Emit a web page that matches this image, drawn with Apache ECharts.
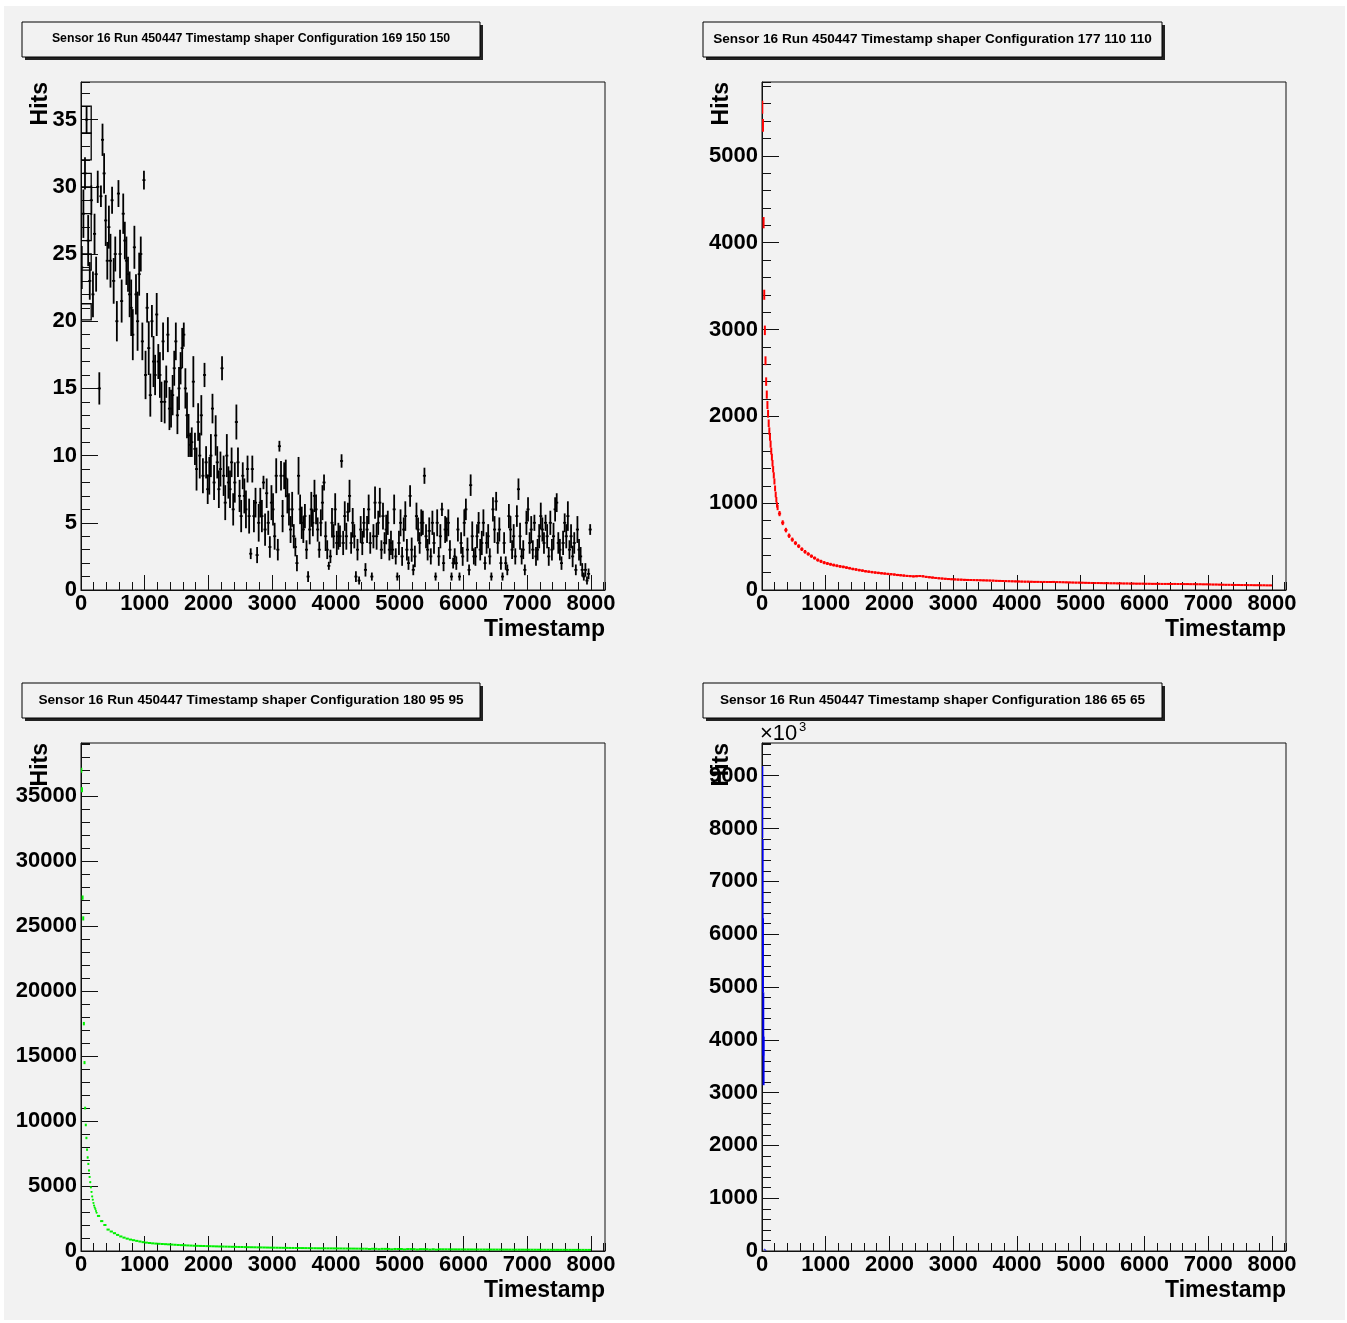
<!DOCTYPE html>
<html>

<head>
  <meta charset="utf-8" />
  <title>Sensor 16 Run 450447 Timestamp</title>
  <script src="https://cdn.jsdelivr.net/npm/echarts@6/dist/echarts.min.js"></script>
  <style>
    html, body { margin: 0; padding: 0; background: #fff; }
    #pad { position: absolute; left: 4px; top: 6px; width: 1341px; height: 1314px; background: #f2f2f2; }
    #timestamps { position: absolute; left: 0; top: 0; width: 1347px; height: 1323px; }
  </style>
</head>

<body>
  <div id="pad"></div>
  <div id="timestamps"></div>
  <script type="text/javascript">

    // Panel 1: config 169 150 150, bins of 25 starting at 0
    let p1BinWidth = 25;
    let p1Hits = [
      24, 28, 31, 35, 26, 23, 29, 22, 26.5, 23.5, 30, 15, 29.3, 33.5, 31, 27.5, 24.5, 27, 24.5, 29,
      23, 25, 20, 29.5, 25, 21.5, 28, 26, 24.5, 23.5, 22, 21, 19, 25.5, 22, 20, 23.5, 25, 18.5, 30.5,
      16, 21, 18, 14.5, 20, 17, 16, 20.5, 17, 16, 14, 18.5, 14, 15.5, 19, 13.5, 13.5, 14.5, 16.5, 18.5,
      13, 15, 16.5, 18, 19, 15, 13, 11.5, 10.8, 11, 15.5, 10.5, 9, 12.5, 10, 13, 8.5, 16, 9.5, 7.5,
      8.5, 10, 13.5, 8, 11.5, 9.5, 7.5, 9, 16.5, 8.5, 6.5, 10, 8, 7.5, 9.5, 6, 8, 12.5, 9.5, 7,
      5.5, 8.5, 7, 6, 9, 5.5, 2.7, 9, 5.5, 6.5, 2.6, 5, 6.5, 5.5, 8, 4.5, 7.2, 5, 3.2, 6.5,
      6, 4, 8.5, 3, 10.7, 8.5, 5.5, 8.5, 8.3, 7, 6, 4.5, 6, 4, 3.2, 2, 8.5, 6, 5, 4.5,
      5.5, 3, 1, 4.5, 6, 5, 7, 6, 4.5, 3, 5, 6.5, 8, 4, 3, 1.8, 2.5, 5, 4, 6,
      3.5, 4, 4, 9.6, 3.5, 5.5, 4, 5.8, 7, 3.5, 5, 4, 1, 3, 0.7, 4.5, 3.5, 5, 1.5, 4.5,
      6, 3.5, 1, 4, 6.5, 4, 5, 6.5, 3, 5.5, 3.5, 4.5, 5, 3, 3.5, 3, 6, 2.5, 1, 3.5,
      5, 2.5, 4.5, 5.5, 3, 2, 7, 3, 1.5, 2.5, 5.5, 4.5, 3.5, 5, 5, 8.5, 4, 3, 4.4, 2.5,
      5, 3.5, 1, 5, 2.5, 4, 6, 2, 4.5, 4.5, 5, 3, 1, 2, 2.5, 2, 4.5, 1, 3.5, 2.5,
      5, 6, 3, 1.5, 7.8, 4, 2.5, 2.5, 4, 5, 3, 3.5, 5, 2, 3.5, 4, 2.5, 1, 6, 4.5,
      6.6, 3.5, 4.5, 2, 1, 3.5, 2, 1.5, 5.5, 4.5, 3, 4, 2.5, 5.5, 7.5, 4, 2.5, 3, 1.5, 5,
      6, 3.5, 4.5, 3, 5, 2.5, 3, 4, 5.5, 4.5, 3.5, 5, 4, 2.5, 5, 3, 4, 6, 6.5, 3.5,
      3, 2, 3.5, 5, 4, 5.5, 3, 4, 2.5, 3.5, 1.5, 4.5, 3, 2.5, 1.5, 1, 1.5, 0.7, 1.2, 4.5];
    let p1Err = [
      1.6, 1.8, 1.2, 1.0, 1.9, 1.4, 1.1, 1.7, 1.5, 1.3, 1.2, 1.2, 0.8, 1.2, 1.5, 1.9, 1.4, 1.6, 2.0, 1.0,
      1.7, 1.3, 1.5, 1.0, 1.8, 1.6, 1.5, 1.4, 1.8, 1.3, 1.7, 2.1, 1.9, 1.6, 1.5, 2.2, 1.6, 1.3, 1.4, 0.7,
      1.8, 1.1, 2.0, 1.6, 1.2, 1.9, 1.5, 1.6, 1.3, 1.7, 1.5, 1.4, 1.6, 1.2, 1.3, 1.6, 1.4, 1.5, 1.3, 1.4,
      1.4, 1.6, 1.2, 1.5, 0.9, 1.5, 1.7, 1.6, 0.9, 1.1, 1.9, 1.2, 1.6, 1.4, 1.7, 1.5, 1.3, 0.9, 1.2, 1.1,
      1.4, 1.6, 1.1, 1.3, 1.5, 1.2, 1.4, 1.3, 0.9, 1.5, 1.3, 1.6, 1.2, 1.4, 1.1, 1.2, 1.5, 1.3, 1.1, 1.2,
      1.2, 1.0, 1.3, 1.4, 1.0, 1.3, 0.4, 1.0, 1.2, 1.1, 0.6, 1.4, 1.1, 1.2, 0.5, 1.2, 1.1, 0.9, 0.8, 1.3,
      1.2, 1.0, 1.3, 0.8, 0.4, 1.1, 1.2, 1.0, 1.4, 1.3, 1.2, 1.0, 1.3, 0.9, 0.7, 0.6, 1.4, 1.1, 1.2, 1.0,
      0.9, 0.7, 0.4, 1.1, 1.3, 1.0, 1.2, 1.1, 0.9, 0.6, 1.0, 1.3, 0.6, 1.1, 0.7, 0.3, 0.5, 1.1, 0.9, 1.2,
      0.9, 1.0, 0.8, 0.5, 0.9, 1.1, 1.0, 0.7, 1.2, 0.8, 1.1, 0.9, 0.4, 0.8, 0.3, 1.0, 0.9, 1.1, 0.5, 1.0,
      1.1, 0.8, 0.3, 0.9, 1.2, 1.0, 0.9, 1.1, 0.7, 1.0, 0.8, 1.1, 0.9, 0.8, 0.9, 0.7, 1.1, 0.6, 0.3, 0.9,
      1.0, 0.7, 0.9, 1.1, 0.8, 0.5, 0.8, 0.9, 0.4, 0.8, 1.0, 0.9, 0.8, 1.0, 0.9, 0.6, 0.9, 0.8, 1.0, 0.6,
      0.9, 0.8, 0.3, 1.0, 0.7, 0.9, 0.5, 0.6, 1.0, 0.9, 1.0, 0.7, 0.3, 0.4, 0.6, 0.5, 0.9, 0.3, 0.8, 0.7,
      1.0, 0.8, 0.9, 0.4, 0.8, 1.1, 0.6, 0.7, 0.9, 0.8, 0.8, 0.9, 1.0, 0.5, 0.8, 0.9, 0.6, 0.3, 0.9, 1.0,
      0.7, 0.8, 0.9, 0.5, 0.3, 0.8, 0.5, 0.4, 0.9, 1.0, 0.7, 0.9, 0.6, 0.8, 0.8, 1.0, 0.6, 0.7, 0.4, 0.9,
      0.9, 0.8, 1.0, 0.7, 0.6, 0.7, 0.8, 0.9, 1.0, 0.9, 0.8, 0.6, 0.9, 0.7, 0.9, 0.8, 1.0, 0.9, 0.7, 0.8,
      0.8, 0.5, 0.9, 0.7, 0.9, 1.1, 0.7, 0.9, 0.8, 0.8, 0.4, 1.0, 0.8, 0.7, 0.5, 0.3, 0.5, 0.3, 0.4, 0.4];
    // error boxes drawn over the first bins: [from, to, low, high]
    let p1Boxes = [[0, 160, 34.0, 36.0], [0, 160, 32.0, 34.0], [0, 160, 30.0, 31.0],
      [0, 160, 26.0, 28.0], [0, 160, 23.8, 25.0], [0, 160, 20.1, 21.3]];

    // Panels 2 and 3 share the binning: 10 wide up to 250, then 50 wide
    let fineTime = [5, 15, 25, 35, 45, 55, 65, 75, 85, 95, 105, 115, 125, 135, 145,
      155, 165, 175, 185, 195, 205, 215, 225, 235, 245];
    let coarseStart = 275, coarseWidth = 50;

    // Panel 2: config 177 110 110
    let p2Hits = [
      5560, 5350, 4230, 3400, 2990, 2640, 2400, 2250, 2130, 2030, 1920, 1830, 1760, 1680, 1600,
      1530, 1460, 1390, 1320, 1250, 1170, 1100, 1040, 980, 950,
      880, 775, 690, 625, 580, 540, 505, 470, 440, 415, 390, 368, 345, 330, 315,
      305, 296, 287, 279, 272, 266, 258, 251, 242, 236, 229, 223, 216, 211, 206, 201, 197, 193, 189, 185,
      182, 178, 173, 170, 166, 162, 160, 157, 159, 161, 158, 151, 147, 143, 139, 135, 132, 129, 126, 124,
      122, 120, 119, 117, 116, 115, 114, 113, 112, 111, 110, 109, 108, 106, 105, 104, 102, 101, 100, 99,
      98, 97, 96, 96, 95, 94, 94, 93, 93, 92, 92, 93, 91, 90, 89, 88, 87, 86, 85, 85,
      84, 83, 82, 81, 80, 80, 79, 78, 78, 77, 77, 76, 76, 75, 75, 74, 74, 73, 73, 73,
      72, 72, 71, 71, 71, 70, 70, 70, 69, 70, 69, 69, 68, 68, 67, 67, 66, 66, 65, 65,
      64, 63, 63, 62, 61, 60, 60, 59, 58, 58, 57, 57, 56, 56, 55, 55, 54, 54, 53, 53];
    let p2Err = [
      75, 73, 65, 58, 55, 51, 49, 47, 46, 45, 44, 43, 42, 41, 40, 39, 38, 37, 36, 35, 34, 33, 32, 31, 31,
      30, 28, 26, 25, 24, 23, 22, 21, 21, 20, 20, 19, 19, 18, 18,
      17, 17, 17, 16, 16, 16, 16, 15, 15, 15, 15, 15, 14, 14, 14, 14, 14, 14, 13, 13,
      13, 13, 13, 13, 13, 12, 12, 12, 12, 12, 12, 12, 12, 12, 11, 11, 11, 11, 11, 11,
      11, 11, 11, 11, 11, 10, 10, 10, 10, 10, 10, 10, 10, 10, 10, 10, 10, 10, 10, 10,
      10, 10, 10, 10, 10, 10, 10, 10, 10, 10, 10, 10, 10, 9, 9, 9, 9, 9, 9, 9,
      9, 9, 9, 9, 9, 9, 9, 9, 9, 9, 9, 9, 9, 9, 9, 9, 9, 9, 9, 9,
      9, 9, 9, 9, 9, 8, 8, 8, 8, 8, 8, 8, 8, 8, 8, 8, 8, 8, 8, 8,
      8, 8, 8, 8, 8, 8, 8, 8, 8, 8, 8, 8, 7, 7, 7, 7, 7, 7, 7, 7];

    // Panel 3: config 180 95 95
    let p3Hits = [
      37000, 35500, 27200, 25600, 17500, 14500, 11000, 9700, 8700, 7800, 7200, 6700, 6200, 5700, 5300,
      4900, 4550, 4200, 3950, 3700, 3500, 3350, 3230, 3080, 2950,
      2700, 2300, 2000, 1650, 1500, 1370, 1240, 1120, 1030, 950, 880, 830, 780, 730, 680,
      645, 615, 590, 570, 555, 540, 525, 510, 495, 480, 465, 450, 440, 428, 417, 405, 397, 390, 383, 376,
      370, 362, 355, 348, 342, 336, 330, 324, 318, 312, 306, 300, 295, 290, 285, 280, 275, 270, 265, 260,
      256, 252, 248, 244, 240, 237, 234, 231, 228, 225, 222, 219, 216, 213, 210, 208, 206, 204, 202, 200,
      197, 195, 192, 190, 187, 185, 182, 180, 177, 175, 150, 172, 168, 140, 165, 163, 160, 130, 157, 155,
      153, 120, 150, 148, 146, 115, 143, 141, 139, 110, 137, 105, 134, 132, 131, 129, 128, 126, 125, 124,
      122, 121, 120, 118, 117, 116, 115, 114, 113, 112, 111, 110, 109, 108, 107, 106, 105, 104, 103, 102,
      101, 100, 99, 98, 97, 96, 96, 95, 94, 93, 92, 92, 91, 90, 89, 89, 88, 87, 86, 86];
    let p3Err = [
      190, 188, 165, 160, 132, 120, 105, 98, 93, 88, 85, 82, 79, 75, 73, 70, 67, 65, 63, 61, 59, 58, 57, 55, 54,
      52, 48, 45, 41, 39, 37, 35, 33, 32, 31, 30, 29, 28, 27, 26,
      25, 25, 24, 24, 24, 23, 23, 23, 22, 22, 22, 21, 21, 21, 20, 20, 20, 20, 20, 19,
      19, 19, 19, 19, 18, 18, 18, 18, 18, 18, 17, 17, 17, 17, 17, 17, 17, 16, 16, 16,
      16, 16, 16, 16, 16, 15, 15, 15, 15, 15, 15, 15, 15, 15, 15, 14, 14, 14, 14, 14,
      14, 14, 14, 14, 14, 14, 14, 14, 13, 13, 12, 13, 13, 12, 13, 13, 13, 11, 13, 12,
      12, 11, 12, 12, 12, 11, 12, 12, 12, 10, 12, 10, 12, 11, 11, 11, 11, 11, 11, 11,
      11, 11, 11, 11, 11, 11, 11, 11, 11, 11, 11, 10, 10, 10, 10, 10, 10, 10, 10, 10,
      10, 10, 10, 10, 10, 10, 10, 10, 10, 10, 10, 10, 10, 9, 9, 9, 9, 9, 9, 9];

    // Panel 4: config 186 65 65, hits in units of 10^3
    let p4Time = [5, 10, 15, 20, 25, 40, 60];
    let p4HitsK = [8500, 7000, 5600, 4300, 3600, 30, 12];
    let p4ErrK = [680, 800, 700, 600, 460, 5, 3];

    let titles = [
      'Sensor 16 Run 450447 Timestamp shaper Configuration 169 150 150',
      'Sensor 16 Run 450447 Timestamp shaper Configuration 177 110 110',
      'Sensor 16 Run 450447 Timestamp shaper Configuration 180 95 95',
      'Sensor 16 Run 450447 Timestamp shaper Configuration 186 65 65'
    ];

    // build [time, hits, error, half width] rows
    let p1Data = p1Hits.map(function (h, i) {
      return [i * p1BinWidth + p1BinWidth / 2, h, p1Err[i], 24];
    });
    function fineCoarseRows(hits, err) {
      return hits.map(function (h, i) {
        if (i < fineTime.length) return [fineTime[i], h, err[i], 5];
        return [coarseStart + (i - fineTime.length) * coarseWidth, h, err[i], coarseWidth / 2];
      });
    }
    let p2Data = fineCoarseRows(p2Hits, p2Err);
    let p3Data = fineCoarseRows(p3Hits, p3Err);
    let p4Data = p4HitsK.map(function (h, i) { return [p4Time[i], h, p4ErrK[i], 3]; });

    let FONT = '"Liberation Sans", Arial, Helvetica, sans-serif';

    let panels = [
      { left: 81, top: 82, box: [22, 22, 458], titleSize: 12.3, yMax: 37.8, yMajor: 5, yMinor: 1 },
      { left: 762, top: 82, box: [703, 22, 459], titleSize: 13.6, yMax: 5850, yMajor: 1000, yMinor: 200 },
      { left: 81, top: 743, box: [22, 683, 458], titleSize: 13.6, yMax: 39100, yMajor: 5000, yMinor: 1000 },
      { left: 762, top: 743, box: [703, 683, 459], titleSize: 13.6, yMax: 9620, yMajor: 1000, yMinor: 200 }
    ];
    let plotW = 524, plotH = 508;

    function errorBars(color, width) {
      return function (params, api) {
        let x = api.value(0), y = api.value(1), e = api.value(2), h = api.value(3);
        let hi = api.coord([x, y + e]);
        let lo = api.coord([x, y - e]);
        let l = api.coord([x - h, y]);
        let r = api.coord([x + h, y]);
        return {
          type: 'group',
          children: [
            { type: 'line', shape: { x1: hi[0], y1: hi[1], x2: lo[0], y2: lo[1] }, style: { stroke: color, lineWidth: width } },
            { type: 'line', shape: { x1: l[0], y1: l[1], x2: r[0], y2: r[1] }, style: { stroke: color, lineWidth: width } }
          ]
        };
      };
    }
    function boxItem(params, api) {
      let a = api.coord([api.value(0), api.value(3)]);
      let b = api.coord([api.value(1), api.value(2)]);
      return {
        type: 'rect',
        shape: { x: a[0], y: a[1], width: b[0] - a[0], height: b[1] - a[1] },
        style: { fill: 'none', stroke: '#000', lineWidth: 1.3 }
      };
    }
    function plainNumber(v) { return String(v); }

    let grids = [], xAxes = [], yAxes = [], graphics = [];
    let axisColor = '#111';
    panels.forEach(function (p, k) {
      grids.push({ left: p.left, top: p.top, width: plotW, height: plotH, show: true,
        borderColor: axisColor, borderWidth: 1, backgroundColor: 'transparent' });
      xAxes.push({
        gridIndex: k, type: 'value', position: 'bottom', min: 0, max: 8220, interval: 1000,
        axisLine: { show: true, lineStyle: { color: axisColor, width: 1 } },
        axisTick: { show: true, inside: true, length: 15, lineStyle: { color: axisColor } },
        axisLabel: { show: true, margin: 3, fontSize: 22, fontWeight: 'bold', color: '#000', fontFamily: FONT,
          showMaxLabel: false, formatter: plainNumber },
        splitLine: { show: false }
      });
      xAxes.push({
        gridIndex: k, type: 'value', position: 'bottom', min: 0, max: 8220, interval: 200,
        axisLine: { show: false },
        axisTick: { show: true, inside: true, length: 8, lineStyle: { color: axisColor } },
        axisLabel: { show: false }, splitLine: { show: false }
      });
      yAxes.push({
        gridIndex: k, type: 'value', position: 'left', min: 0, max: p.yMax, interval: p.yMajor,
        axisLine: { show: true, lineStyle: { color: axisColor, width: 1 } },
        axisTick: { show: true, inside: true, length: 17, lineStyle: { color: axisColor } },
        axisLabel: { show: true, margin: 4, fontSize: 22, fontWeight: 'bold', color: '#000', fontFamily: FONT,
          showMaxLabel: false, formatter: plainNumber },
        splitLine: { show: false }
      });
      yAxes.push({
        gridIndex: k, type: 'value', position: 'left', min: 0, max: p.yMax, interval: p.yMinor,
        axisLine: { show: false },
        axisTick: { show: true, inside: true, length: 9, lineStyle: { color: axisColor } },
        axisLabel: { show: false }, splitLine: { show: false }
      });

      // title box with shadow
      graphics.push({ type: 'rect', shape: { x: p.box[0] + 3, y: p.box[1] + 3, width: p.box[2], height: 35 },
        style: { fill: '#222' } });
      graphics.push({ type: 'rect', shape: { x: p.box[0], y: p.box[1], width: p.box[2], height: 35 },
        style: { fill: '#f2f2f2', stroke: '#000', lineWidth: 1 } });
      graphics.push({ type: 'text', x: p.box[0] + p.box[2] / 2, y: p.box[1] + 17,
        style: { text: titles[k], align: 'center', verticalAlign: 'middle', fontSize: p.titleSize,
          fontWeight: 'bold', fontFamily: FONT, fill: '#000' } });
      // axis titles
      graphics.push({ type: 'text', x: p.left - 40, y: p.top, rotation: Math.PI / 2,
        style: { text: 'Hits', align: 'right', verticalAlign: 'middle', fontSize: 23,
          fontWeight: 'bold', fontFamily: FONT, fill: '#000' } });
      graphics.push({ type: 'text', x: p.left + plotW, y: p.top + plotH + 40,
        style: { text: 'Timestamp', align: 'right', verticalAlign: 'middle', fontSize: 23,
          fontWeight: 'bold', fontFamily: FONT, fill: '#000' } });
    });
    // exponent marker of the last panel
    graphics.push({ type: 'text', x: 760, y: 734,
      style: { text: '×10', align: 'left', verticalAlign: 'middle', fontSize: 22, fontFamily: FONT, fill: '#000' } });
    graphics.push({ type: 'text', x: 799, y: 727,
      style: { text: '3', align: 'left', verticalAlign: 'middle', fontSize: 13, fontFamily: FONT, fill: '#000' } });

    var chart = echarts.init(document.getElementById('timestamps'));
    var option = {
      animation: false,
      backgroundColor: 'transparent',
      textStyle: { fontFamily: FONT },
      grid: grids,
      xAxis: xAxes,
      yAxis: yAxes,
      graphic: graphics,
      series: [
        { type: 'custom', xAxisIndex: 0, yAxisIndex: 0, clip: true, silent: true,
          encode: { x: 0, y: 1 }, renderItem: errorBars('#000', 1.8), data: p1Data },
        { type: 'custom', xAxisIndex: 0, yAxisIndex: 0, clip: true, silent: true,
          encode: { x: [0, 1], y: [2, 3] }, renderItem: boxItem, data: p1Boxes },
        { type: 'custom', xAxisIndex: 2, yAxisIndex: 2, clip: true, silent: true,
          encode: { x: 0, y: 1 }, renderItem: errorBars('#ff0000', 2), data: p2Data },
        { type: 'custom', xAxisIndex: 4, yAxisIndex: 4, clip: true, silent: true,
          encode: { x: 0, y: 1 }, renderItem: errorBars('#00f000', 2), data: p3Data },
        { type: 'custom', xAxisIndex: 6, yAxisIndex: 6, clip: true, silent: true,
          encode: { x: 0, y: 1 }, renderItem: errorBars('#0000ee', 2), data: p4Data }
      ]
    };
    chart.setOption(option);
  </script>
</body>

</html>
